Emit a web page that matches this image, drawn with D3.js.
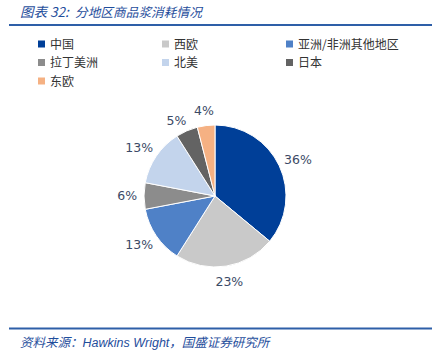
<!DOCTYPE html>
<html><head><meta charset="utf-8">
<script src="https://cdn.jsdelivr.net/npm/d3@7/dist/d3.min.js"></script>
<style>body{margin:0;background:#fff} text{white-space:pre}</style>
</head><body>
<svg id="c" width="445" height="352"></svg>
<script>
const categories = ["中国","西欧","亚洲/非洲其他地区","拉丁美洲","北美","日本","东欧"];
const values = [36,23,13,6,13,5,4];
const colors = ["#003f98","#c9c9c9","#4f81c7","#8c8c8c","#c3d4ec","#636363","#f5b183"];
const titleHead = "图表 32:";
const titleText = "分地区商品浆消耗情况";
const source = ["资料来源：","Hawkins Wright","，国盛证券研究所"];

const svg = d3.select("#c");
const blue = "#1f4e9c";
const cjk = "'Noto Sans CJK SC', sans-serif";

svg.append("text").attr("x",20).attr("y",17).attr("fill",blue)
  .attr("font-family",cjk).attr("font-size",13.5).attr("font-style","italic").text(titleHead);
svg.append("text").attr("x",75).attr("y",17).attr("fill",blue)
  .attr("font-family",cjk).attr("font-size",12.7).attr("font-style","italic").text(titleText);
svg.append("line").attr("x1",9).attr("x2",432).attr("y1",25).attr("y2",25)
  .attr("stroke","#2e5fa8").attr("stroke-width",2);

// legend
const colX = [38,162,286];
const leg = svg.append("g");
categories.forEach((c,i)=>{
  const col = i%3, row = Math.floor(i/3);
  const g = leg.append("g").attr("transform",`translate(${colX[col]},${44+row*18.5})`);
  g.append("rect").attr("x",0).attr("y",-3.5).attr("width",7).attr("height",7).attr("fill",colors[i]);
  g.append("text").attr("x",12).attr("y",4.5).attr("font-family",cjk).attr("font-size",12)
    .attr("fill","#333").text(c);
});

// pie
const cx=215, cy=196, r=71;
const pie = d3.pie().sort(null).value(d=>d)(values);
const arc = d3.arc().innerRadius(0).outerRadius(r);
const pg = svg.append("g").attr("transform",`translate(${cx},${cy})`);
pg.selectAll("path").data(pie).join("path").attr("d",arc)
  .attr("fill",(d,i)=>colors[i]).attr("stroke","#fff").attr("stroke-width",1);

// labels
const lr = r+9, fs=12.5, fam="'DejaVu Sans', sans-serif";
const labels = pie.map((d,i)=>{
  const a=(d.startAngle+d.endAngle)/2;
  const t = Math.round(d.value)+"%";
  const w = t.length*7.8;
  const h = 13;
  let x = Math.sin(a)*lr + Math.sin(a)*w/2;
  let y = -Math.cos(a)*lr - Math.cos(a)*h/2;
  return {t,x,y,w,h};
});
// simple collision avoidance: push earlier labels left if overlapping later ones
for (let i=labels.length-2;i>=0;i--){
  const A=labels[i], B=labels[i+1];
  if (Math.abs(A.y-B.y)<A.h && A.x< B.x+1){
    const need = (A.w+B.w)/2 + 12;
    if (B.x-A.x<need) { A.x = B.x-need; A.y += 4; }
  }
}
pg.selectAll("text.l").data(labels).join("text").attr("class","l")
  .attr("x",d=>d.x).attr("y",d=>d.y).attr("dy","0.35em").attr("text-anchor","middle")
  .attr("font-family",fam).attr("font-size",fs).attr("fill","#3b4a66").text(d=>d.t);

// footer
svg.append("line").attr("x1",9).attr("x2",432).attr("y1",328.5).attr("y2",328.5)
  .attr("stroke","#2e5fa8").attr("stroke-width",2);
const ft = svg.append("text").attr("x",20).attr("y",347).attr("fill",blue)
  .attr("font-size",12.5).attr("font-style","italic");
ft.append("tspan").attr("font-family",cjk).text(source[0]);
ft.append("tspan").attr("font-family","'Liberation Sans', Arial, sans-serif").text(source[1]);
ft.append("tspan").attr("font-family",cjk).text(source[2]);
</script>
</body></html>
